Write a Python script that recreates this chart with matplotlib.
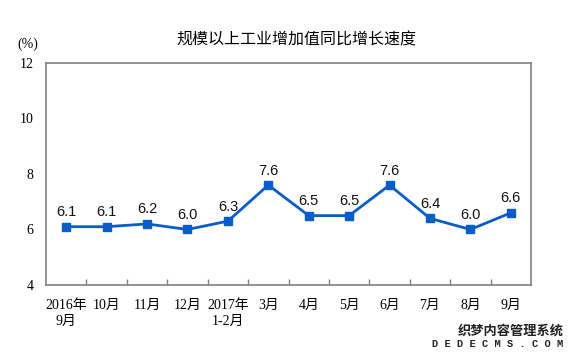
import matplotlib
matplotlib.use("Agg")
import matplotlib.pyplot as plt
import numpy as np

plt.rcParams['font.family'] = ['Liberation Serif', 'Noto Sans CJK SC', 'DejaVu Sans']

months = ['2016年\n9月', '10月', '11月', '12月', '2017年\n1-2月', '3月',
          '4月', '5月', '6月', '7月', '8月', '9月']
growth = [6.1, 6.1, 6.2, 6.0, 6.3, 7.6, 6.5, 6.5, 7.6, 6.4, 6.0, 6.6]
yticks = [4, 6, 8, 10, 12]

blue = '#0A5CC8'

fig = plt.figure(figsize=(5.75, 3.58), dpi=100)
ax = fig.add_axes([0.08, 0.204, 0.8435, 0.62])

x = np.arange(len(growth))
ax.plot(x, growth, color=blue, lw=2, marker='s', ms=5.5, mec=blue, mfc=blue)
for xi, v in zip(x, growth):
    ax.text(xi, v + 0.27, f"{v:.1f}", ha='center', va='bottom', fontsize=10.5,
            family=['Liberation Sans', 'DejaVu Sans'], color='#111111')

ax.set_xlim(-0.5, len(growth) - 0.5)
ax.set_ylim(4, 12)
ax.set_yticks(yticks)
ax.set_yticklabels([str(t) for t in yticks], fontsize=10)
ax.tick_params(axis='y', length=0, pad=9)

ax.set_xticks(x)
ax.set_xticklabels(months, fontsize=10, linespacing=1.35,
                   family=['Liberation Serif', 'Noto Sans CJK SC'])
ax.tick_params(axis='x', which='major', length=0, pad=10)
ax.set_xticks(np.arange(0.5, len(growth) - 1, 1), minor=True)
ax.tick_params(axis='x', which='minor', direction='in', length=4,
               color='#808080', width=1)

for s in ax.spines.values():
    s.set_color('#808080')
    s.set_linewidth(1.2)

fig.text(0.516, 0.888, '规模以上工业增加值同比增长速度', ha='center', va='center',
         fontsize=11.5, family=['Noto Sans CJK SC'])
fig.text(0.049, 0.875, '(%)', ha='center', va='center', fontsize=10)

fig.text(0.98, 0.075, '织梦内容管理系统', ha='right', va='center', fontsize=9.5,
         family=['Noto Sans CJK SC'], color='#222222', weight='bold')
fig.text(0.98, 0.04, 'D E D E C M S . C O M', ha='right', va='center', fontsize=7.5,
         family=['Liberation Mono'], color='#222222', weight='bold')

fig.savefig('out.png', dpi=100)
